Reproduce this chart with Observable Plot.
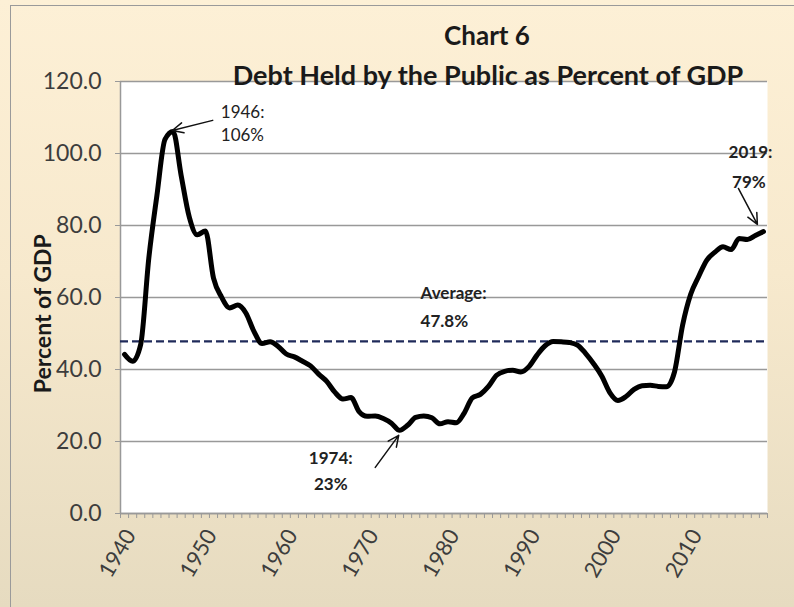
<!DOCTYPE html>
<html>
<head>
<meta charset="utf-8">
<script src="https://cdn.jsdelivr.net/npm/d3@7"></script>
<script src="https://cdn.jsdelivr.net/npm/@observablehq/plot@0.6"></script>
<style>
  html, body { margin: 0; padding: 0; width: 794px; height: 607px; overflow: hidden; }
  #wrap {
    position: relative; width: 794px; height: 607px;
    background: linear-gradient(to bottom, #fdf0d6 0%, #f7e9cd 45%, #e6dbc0 100%);
  }
  #border { position: absolute; left: 10px; top: 5px; width: 800px; height: 620px; border: 1.5px solid #9a9a9a; box-sizing: border-box; }
  #chart { position: absolute; left: 0; top: 0; }
  svg { background: transparent !important; }
</style>
</head>
<body>
<div id="wrap"><div id="border"></div><div id="chart"></div></div>
<script>
// Data: debt held by the public, percent of GDP, fiscal years 1940-2019
const years = d3.range(1940, 2020);
const debt = [
  44.2, 42.3, 47.0, 70.9, 88.3, 103.9, 106.1, 93.9, 82.4, 77.4,
  78.5, 65.4, 60.1, 57.1, 57.9, 55.7, 50.6, 47.2, 47.7, 46.4,
  44.3, 43.5, 42.3, 41.0, 38.7, 36.7, 33.7, 31.8, 32.2, 28.3,
  27.0, 27.1, 26.4, 25.1, 23.1, 24.5, 26.7, 27.1, 26.6, 24.9,
  25.5, 25.2, 27.9, 32.1, 33.1, 35.3, 38.4, 39.5, 39.8, 39.3,
  40.8, 44.0, 46.6, 47.8, 47.7, 47.5, 46.8, 44.5, 41.6, 38.2,
  33.6, 31.4, 32.5, 34.5, 35.5, 35.6, 35.3, 35.2, 39.3, 52.3,
  60.9, 65.9, 70.4, 72.6, 74.1, 73.3, 76.4, 76.1, 77.2, 78.3
];
const average = 47.8;
const yTicks = [0, 20, 40, 60, 80, 100, 120];
const xLabelYears = [1940, 1950, 1960, 1970, 1980, 1990, 2000, 2010];
const xMinorTicks = d3.range(1939.5, 2020, 1);

const series = years.map((y, i) => ({year: y, value: debt[i]}));

// Annotations (label lines and arrows)
const notesStart = [
  {text: "Average:", x: 1976.6, y: 61.1},
  {text: "47.8%", x: 1976.6, y: 53.3}
];
const notesStartRegular = [
  {text: "1946:", x: 1951.9, y: 111.5},
  {text: "106%", x: 1951.9, y: 105.0}
];
const notesMiddle = [
  {text: "1974:", x: 1965.5, y: 15.3},
  {text: "23%", x: 1965.5, y: 8.1},
  {text: "2019:", x: 2017.4, y: 100.3},
  {text: "79%", x: 2017.2, y: 91.9}
];
const arrows = [
  {x1: 1950.9, y1: 109.2, x2: 1945.9, y2: 106.4},
  {x1: 1971.0, y1: 12.8, x2: 1973.9, y2: 21.7},
  {x1: 2015.9, y1: 90.3, x2: 2018.25, y2: 80.3}
];

const font = "Lato, 'Open Sans', sans-serif";

const chart = Plot.plot({
  width: 794,
  height: 607,
  marginLeft: 120,
  marginRight: 27,
  marginTop: 81,
  marginBottom: 94,
  style: {fontFamily: font, background: "transparent", overflow: "visible"},
  x: {domain: [1939.5, 2019.5]},
  y: {domain: [0, 120]},
  marks: [
    Plot.frame({fill: "white", stroke: null}),
    Plot.gridY(yTicks, {stroke: "#999999", strokeOpacity: 1, strokeWidth: 1.5}),
    Plot.ruleX([1939.5], {stroke: "#999999", strokeWidth: 1.5}),
    Plot.axisY(yTicks, {
      tickFormat: d => d.toFixed(1), tickSize: 5, tickPadding: 14,
      fontSize: 23, color: "#3d3d3d", stroke: "#999999", label: null
    }),
    Plot.axisX(xMinorTicks, {tickSize: 5, tickFormat: () => "", stroke: "#999999", label: null}),
    Plot.axisX(xLabelYears, {
      tickSize: 0, tickPadding: 18, tickRotate: -60, fontSize: 22, dx: 6,
      color: "#3d3d3d", label: null, tickFormat: d => String(d)
    }),
    Plot.ruleY([0], {stroke: "#999999", strokeWidth: 1.5}),
    Plot.ruleY([average], {stroke: "#1f2a5a", strokeWidth: 2.2, strokeDasharray: "8,4"}),
    Plot.line(series, {x: "year", y: "value", stroke: "black", strokeWidth: 5, curve: "monotone-x", strokeLinejoin: "round"}),
    Plot.arrow(arrows, {x1: "x1", y1: "y1", x2: "x2", y2: "y2", stroke: "#111", strokeWidth: 1.5, headLength: 12, headAngle: 50}),
    Plot.text(notesStart, {x: "x", y: "y", text: "text", textAnchor: "start", fontSize: 17, fontWeight: "bold", fill: "#222"}),
    Plot.text(notesStartRegular, {x: "x", y: "y", text: "text", textAnchor: "start", fontSize: 17, fill: "#222"}),
    Plot.text(notesMiddle, {x: "x", y: "y", text: "text", textAnchor: "middle", fontSize: 17, fontWeight: "bold", fill: "#222"}),
    Plot.text(["Percent of GDP"], {x: 1939.5, y: 55.5, dx: -77, rotate: -90, fontSize: 23, fontWeight: "bold", fill: "#1a1a1a"}),
    Plot.text(["Chart 6"], {frameAnchor: "top", dx: 43, dy: -55, fontSize: 26, fontWeight: "bold", fill: "#1a1a1a"}),
    Plot.text(["Debt Held by the Public as Percent of GDP"], {frameAnchor: "top", dx: 44, dy: -16, fontSize: 27, fontWeight: "bold", fill: "#1a1a1a"})
  ]
});
document.getElementById("chart").appendChild(chart);
</script>
</body>
</html>
